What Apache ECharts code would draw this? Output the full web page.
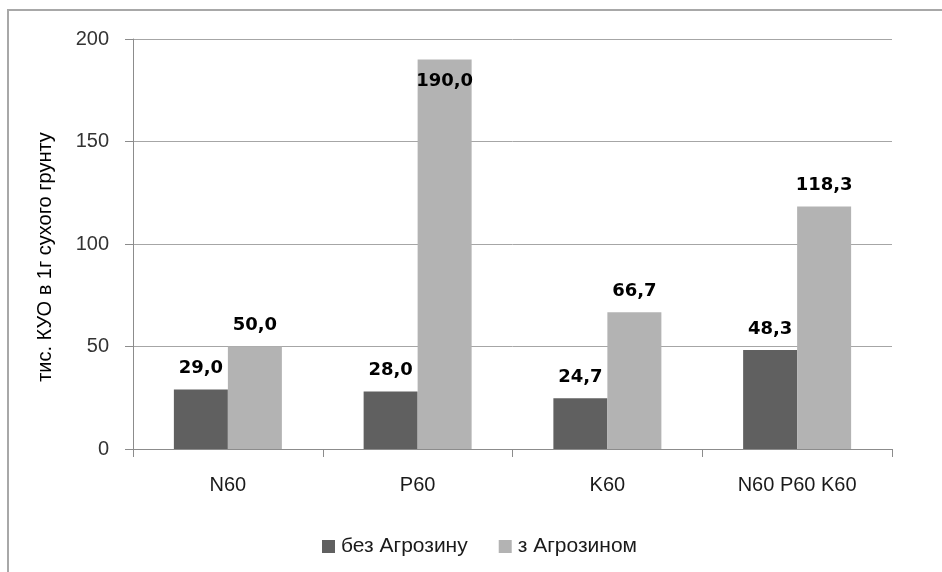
<!DOCTYPE html>
<html>
<head>
<meta charset="utf-8">
<script src="https://cdn.jsdelivr.net/npm/echarts@6/dist/echarts.min.js"></script>
<style>
html,body{margin:0;padding:0;background:#fff;}
#chart{width:942px;height:572px;}
</style>
</head>
<body>
<div id="chart"></div>
<script>
var categories = ['N60', 'P60', 'K60', 'N60 P60 K60'];
var seriesNames = ['без Агрозину', 'з Агрозином'];
var withoutAgrosin = [29.0, 28.0, 24.7, 48.3];
var withAgrosin = [50.0, 190.0, 66.7, 118.3];
var yTicks = [0, 50, 100, 150, 200];
var yAxisTitle = 'тис. КУО в 1г сухого грунту';

var chart = echarts.init(document.getElementById('chart'), null, {renderer: 'canvas'});

function fmt(p) { return p.value.toFixed(1).replace('.', ','); }

var labelStyle = {
  show: true,
  position: 'top',
  distance: 12,
  fontFamily: 'DejaVu Sans',
  fontWeight: 'bold',
  fontSize: 18,
  color: '#000',
  formatter: fmt
};

var lightData = withAgrosin.map(function (v) {
  if (v > 150) {
    return {value: v, label: {position: 'insideTop', distance: 13}};
  }
  return v;
});

chart.setOption({
  animation: false,
  backgroundColor: '#fff',
  graphic: [{
    type: 'rect',
    shape: {x: 8, y: 10, width: 1100, height: 1000},
    style: {fill: 'none', stroke: '#a8a8a8', lineWidth: 2},
    silent: true
  }],
  grid: {left: 133, right: 50, top: 39, bottom: 123},
  legend: {
    left: 317,
    top: 531,
    itemWidth: 13,
    itemHeight: 13,
    itemGap: 31,
    icon: 'rect',
    textStyle: {fontFamily: 'Liberation Sans', fontSize: 21, color: '#1a1a1a', padding: [0, 0, 0, 1]},
    data: seriesNames
  },
  xAxis: {
    type: 'category',
    data: categories,
    axisLine: {lineStyle: {color: '#8c8c8c', width: 1}},
    axisTick: {show: true, length: 8, lineStyle: {color: '#8c8c8c'}},
    axisLabel: {fontFamily: 'Liberation Sans', fontSize: 20, color: '#1a1a1a', margin: 26}
  },
  yAxis: {
    type: 'value',
    min: yTicks[0],
    max: yTicks[yTicks.length - 1],
    interval: 50,
    name: yAxisTitle,
    nameLocation: 'middle',
    nameGap: 78,
    nameTextStyle: {fontFamily: 'Liberation Sans', fontSize: 20, color: '#000', padding: [0, 26, 0, 0]},
    axisLine: {show: true, lineStyle: {color: '#8c8c8c', width: 1}},
    axisTick: {show: true, length: 8, lineStyle: {color: '#8c8c8c'}},
    axisLabel: {fontFamily: 'Liberation Sans', fontSize: 20, color: '#333', margin: 24},
    splitLine: {lineStyle: {color: '#a6a6a6', width: 1}}
  },
  series: [{
    name: seriesNames[0],
    type: 'bar',
    data: withoutAgrosin,
    barWidth: 54,
    barGap: '0%',
    itemStyle: {color: '#606060'},
    label: labelStyle
  }, {
    name: seriesNames[1],
    type: 'bar',
    data: lightData,
    barWidth: 54,
    barGap: '0%',
    itemStyle: {color: '#b3b3b3'},
    label: labelStyle
  }]
});
</script>
</body>
</html>
